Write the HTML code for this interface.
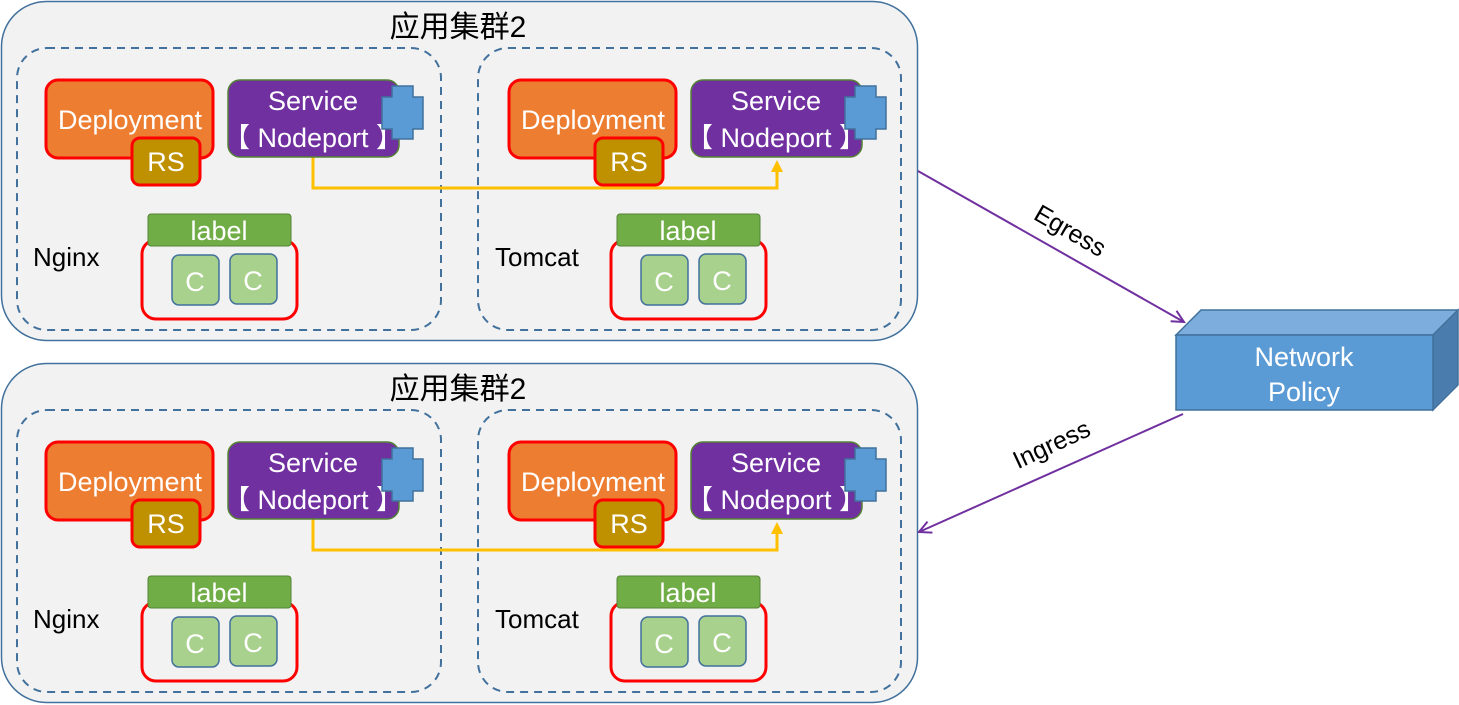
<!DOCTYPE html>
<html><head><meta charset="utf-8"><style>
html,body{margin:0;padding:0;background:#fff;}
svg{display:block;}
text{font-family:"Liberation Sans","Noto Sans CJK SC",sans-serif;}
.w{fill:#fff;font-size:27px;text-anchor:middle;}
.k{fill:#000;font-size:26px;}
.t{fill:#000;font-size:30px;text-anchor:middle;}
</style></head><body>
<svg width="1459" height="705" viewBox="0 0 1459 705" xmlns="http://www.w3.org/2000/svg">
<defs>
<marker id="ya" markerWidth="12" markerHeight="12" refX="6" refY="6" orient="auto" markerUnits="userSpaceOnUse"><path d="M0,0 L12,6 L0,12 z" fill="#FFC000"/></marker>
<marker id="pa" markerWidth="16" markerHeight="16" refX="14" refY="8" orient="auto" markerUnits="userSpaceOnUse"><path d="M2,2 L14,8 L2,14" fill="none" stroke="#7030A0" stroke-width="2"/></marker>
</defs>

<!-- Panel 1 -->
<rect x="1.5" y="1.5" width="916" height="339" rx="45" fill="#F2F2F2" stroke="#41719C" stroke-width="1.5"/>
<text class="t" x="458" y="37">应用集群2</text>
<rect x="17" y="48" width="424" height="282" rx="30" fill="none" stroke="#41719C" stroke-width="2" stroke-dasharray="8,6"/>
<rect x="478" y="48" width="423" height="282" rx="30" fill="none" stroke="#41719C" stroke-width="2" stroke-dasharray="8,6"/>
<polyline points="313,157 313,188 777,188 777,166" fill="none" stroke="#FFC000" stroke-width="3" marker-end="url(#ya)"/>

<g>
<rect x="46" y="80" width="167" height="78" rx="12" fill="#ED7D31" stroke="#FF0000" stroke-width="3"/>
<text class="w" x="130" y="129">Deployment</text>
<rect x="132" y="138" width="68" height="47" rx="8" fill="#BF9000" stroke="#FF0000" stroke-width="3"/>
<text class="w" x="166" y="171">RS</text>
<rect x="228" y="80" width="171" height="77" rx="12" fill="#7030A0" stroke="#548235" stroke-width="1.5"/>
<text class="w" x="313" y="110">Service</text>
<text class="w" x="313" y="147">【 Nodeport 】</text>
<path d="M392,86 H413 V97 H423 V129 H413 V139 H392 V129 H382 V97 H392 Z" fill="#5B9BD5" stroke="#41719C" stroke-width="1.5"/>
<rect x="142" y="240" width="155" height="79" rx="14" fill="none" stroke="#FF0000" stroke-width="3"/>
<rect x="148" y="214" width="143" height="32" rx="3" fill="#70AD47" stroke="#548235" stroke-width="1"/>
<text class="w" x="219" y="240">label</text>
<rect x="172" y="255" width="47" height="50" rx="7" fill="#A9D18E" stroke="#41719C" stroke-width="1.5"/>
<text class="w" x="195" y="291">C</text>
<rect x="230" y="254" width="47" height="50" rx="7" fill="#A9D18E" stroke="#41719C" stroke-width="1.5"/>
<text class="w" x="253" y="290">C</text>
<text class="k" x="33" y="266">Nginx</text>
</g>
<g transform="translate(463,0)">
<rect x="46" y="80" width="167" height="78" rx="12" fill="#ED7D31" stroke="#FF0000" stroke-width="3"/>
<text class="w" x="130" y="129">Deployment</text>
<rect x="132" y="138" width="68" height="47" rx="8" fill="#BF9000" stroke="#FF0000" stroke-width="3"/>
<text class="w" x="166" y="171">RS</text>
<rect x="228" y="80" width="171" height="77" rx="12" fill="#7030A0" stroke="#548235" stroke-width="1.5"/>
<text class="w" x="313" y="110">Service</text>
<text class="w" x="313" y="147">【 Nodeport 】</text>
<path d="M392,86 H413 V97 H423 V129 H413 V139 H392 V129 H382 V97 H392 Z" fill="#5B9BD5" stroke="#41719C" stroke-width="1.5"/>
<rect x="148" y="240" width="155" height="79" rx="14" fill="none" stroke="#FF0000" stroke-width="3"/>
<rect x="154" y="214" width="143" height="32" rx="3" fill="#70AD47" stroke="#548235" stroke-width="1"/>
<text class="w" x="225" y="240">label</text>
<rect x="178" y="255" width="47" height="50" rx="7" fill="#A9D18E" stroke="#41719C" stroke-width="1.5"/>
<text class="w" x="201" y="291">C</text>
<rect x="236" y="254" width="47" height="50" rx="7" fill="#A9D18E" stroke="#41719C" stroke-width="1.5"/>
<text class="w" x="259" y="290">C</text>
<text class="k" x="32" y="266">Tomcat</text>
</g>

<!-- Panel 2 -->
<g transform="translate(0,362)">
<rect x="1.5" y="1.5" width="916" height="339" rx="45" fill="#F2F2F2" stroke="#41719C" stroke-width="1.5"/>
<text class="t" x="458" y="37">应用集群2</text>
<rect x="17" y="48" width="424" height="282" rx="30" fill="none" stroke="#41719C" stroke-width="2" stroke-dasharray="8,6"/>
<rect x="478" y="48" width="423" height="282" rx="30" fill="none" stroke="#41719C" stroke-width="2" stroke-dasharray="8,6"/>
<polyline points="313,157 313,188 777,188 777,166" fill="none" stroke="#FFC000" stroke-width="3" marker-end="url(#ya)"/>
<g>
<rect x="46" y="80" width="167" height="78" rx="12" fill="#ED7D31" stroke="#FF0000" stroke-width="3"/>
<text class="w" x="130" y="129">Deployment</text>
<rect x="132" y="138" width="68" height="47" rx="8" fill="#BF9000" stroke="#FF0000" stroke-width="3"/>
<text class="w" x="166" y="171">RS</text>
<rect x="228" y="80" width="171" height="77" rx="12" fill="#7030A0" stroke="#548235" stroke-width="1.5"/>
<text class="w" x="313" y="110">Service</text>
<text class="w" x="313" y="147">【 Nodeport 】</text>
<path d="M392,86 H413 V97 H423 V129 H413 V139 H392 V129 H382 V97 H392 Z" fill="#5B9BD5" stroke="#41719C" stroke-width="1.5"/>
<rect x="142" y="240" width="155" height="79" rx="14" fill="none" stroke="#FF0000" stroke-width="3"/>
<rect x="148" y="214" width="143" height="32" rx="3" fill="#70AD47" stroke="#548235" stroke-width="1"/>
<text class="w" x="219" y="240">label</text>
<rect x="172" y="255" width="47" height="50" rx="7" fill="#A9D18E" stroke="#41719C" stroke-width="1.5"/>
<text class="w" x="195" y="291">C</text>
<rect x="230" y="254" width="47" height="50" rx="7" fill="#A9D18E" stroke="#41719C" stroke-width="1.5"/>
<text class="w" x="253" y="290">C</text>
<text class="k" x="33" y="266">Nginx</text>
</g>
<g transform="translate(463,0)">
<rect x="46" y="80" width="167" height="78" rx="12" fill="#ED7D31" stroke="#FF0000" stroke-width="3"/>
<text class="w" x="130" y="129">Deployment</text>
<rect x="132" y="138" width="68" height="47" rx="8" fill="#BF9000" stroke="#FF0000" stroke-width="3"/>
<text class="w" x="166" y="171">RS</text>
<rect x="228" y="80" width="171" height="77" rx="12" fill="#7030A0" stroke="#548235" stroke-width="1.5"/>
<text class="w" x="313" y="110">Service</text>
<text class="w" x="313" y="147">【 Nodeport 】</text>
<path d="M392,86 H413 V97 H423 V129 H413 V139 H392 V129 H382 V97 H392 Z" fill="#5B9BD5" stroke="#41719C" stroke-width="1.5"/>
<rect x="148" y="240" width="155" height="79" rx="14" fill="none" stroke="#FF0000" stroke-width="3"/>
<rect x="154" y="214" width="143" height="32" rx="3" fill="#70AD47" stroke="#548235" stroke-width="1"/>
<text class="w" x="225" y="240">label</text>
<rect x="178" y="255" width="47" height="50" rx="7" fill="#A9D18E" stroke="#41719C" stroke-width="1.5"/>
<text class="w" x="201" y="291">C</text>
<rect x="236" y="254" width="47" height="50" rx="7" fill="#A9D18E" stroke="#41719C" stroke-width="1.5"/>
<text class="w" x="259" y="290">C</text>
<text class="k" x="32" y="266">Tomcat</text>
</g>
</g>

<!-- Network Policy box -->
<polygon points="1176,335 1201,310 1458,310 1433,335" fill="#7DADDC" stroke="#41719C" stroke-width="1.5"/>
<polygon points="1433,335 1458,310 1458,385 1433,410" fill="#4A7DAE" stroke="#41719C" stroke-width="1.5"/>
<rect x="1176" y="335" width="257" height="75" fill="#5B9BD5" stroke="#41719C" stroke-width="1.5"/>
<text class="w" x="1304" y="366">Network</text>
<text class="w" x="1304" y="401">Policy</text>

<!-- Arrows -->
<line x1="918" y1="171" x2="1184" y2="322" stroke="#7030A0" stroke-width="2" marker-end="url(#pa)"/>
<line x1="1183" y1="414" x2="919" y2="532" stroke="#7030A0" stroke-width="2" marker-end="url(#pa)"/>
<text x="1066" y="238" font-size="25" text-anchor="middle" fill="#000" transform="rotate(30 1066 238)">Egress</text>
<text x="1055" y="452" font-size="25" text-anchor="middle" fill="#000" transform="rotate(-25 1055 452)">Ingress</text>
</svg>
</body></html>
